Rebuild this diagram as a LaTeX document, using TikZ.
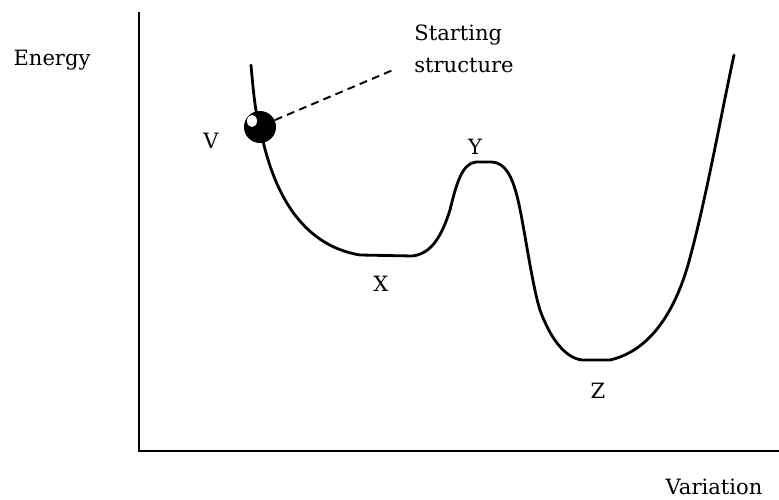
\documentclass[tikz,border=0pt]{standalone}
\usepackage{fontspec}
\setmainfont{DejaVu Serif}

\begin{document}
\begin{tikzpicture}[x=0.02cm,y=-0.02cm,
  lbl/.style={inner sep=0pt,font=\fontsize{12}{18}\selectfont},
  curve/.style={line width=1.6pt,line join=round,line cap=round},
  axis/.style={line width=1.6pt},
  ballnode/.style={circle,fill=black,minimum size=0.64cm,inner sep=0pt}]
  \useasboundingbox (0,0) rectangle (779,500);
  % Axes
  \coordinate (top) at (139,12);
  \coordinate (origin) at (139,451);
  \coordinate (right) at (779,451);
  \draw[axis] (top) -- (origin) -- (right);
  \node[lbl] (energy) at (52,60) {Energy};
  \node[lbl] (variation) at (714,487) {Variation};

  % The energy profile
  \draw[curve] (251,65) .. controls (254,100) and (256,115) .. (260,127)
    .. controls (272,190) and (300,245) .. (360,255)
    -- (412,256)
    .. controls (432,254) and (442,235) .. (450,210)
    .. controls (456,185) and (462,163) .. (476,162)
    -- (492,162)
    .. controls (505,163) and (512,175) .. (518,200)
    .. controls (524,225) and (532,285) .. (540,310)
    .. controls (550,338) and (565,358) .. (582,360)
    -- (610,360)
    .. controls (645,352) and (672,320) .. (688,265)
    .. controls (705,205) and (722,110) .. (734,55);

  % Starting structure
  \node[ballnode] (ball) at (260,127) {};
  \fill[white] (252,121) ellipse [x radius=5, y radius=6];
  \coordinate (tip) at (393,70);
  \draw[line width=1.1pt,dash pattern=on 4.5pt off 3pt] (ball.25) -- (tip);
  \node[lbl,anchor=north west,align=left] (start) at (414,25)
    {Starting\\structure};

  % Stationary points
  \node[lbl] (lblV) at (211,141) {V};
  \node[lbl] (lblX) at (381,284) {X};
  \node[lbl] (lblY) at (475,147) {Y};
  \node[lbl] (lblZ) at (598,391) {Z};
\end{tikzpicture}
\end{document}
